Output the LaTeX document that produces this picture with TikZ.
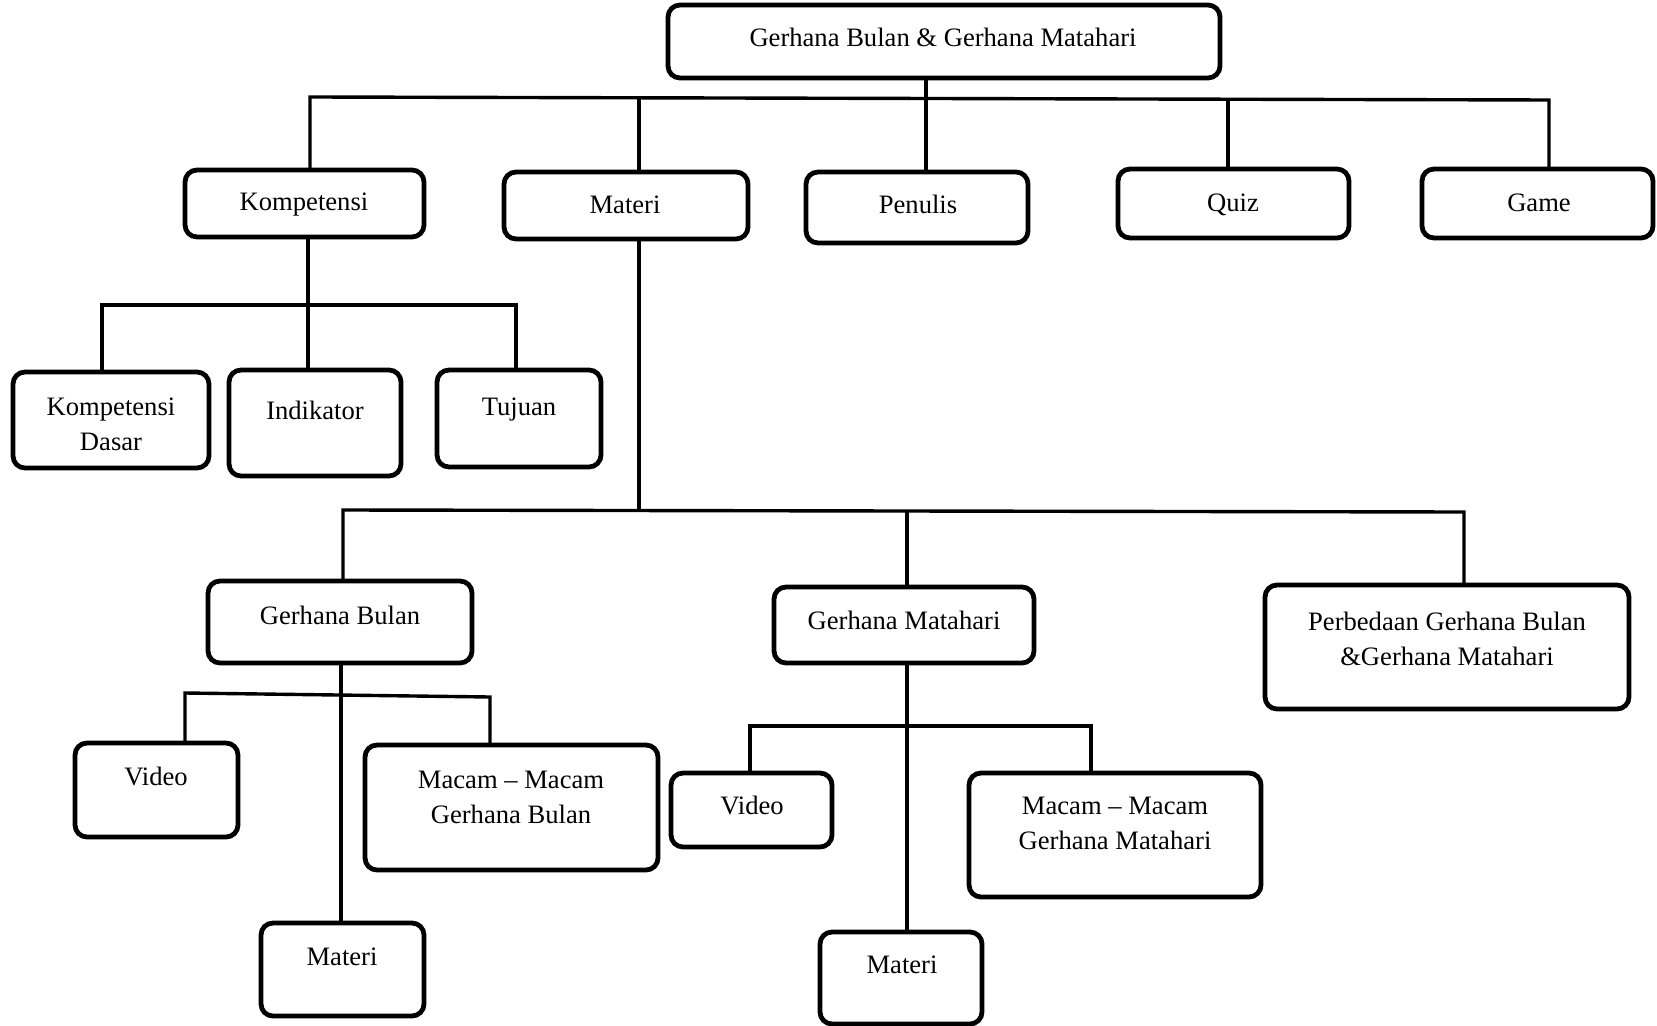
\documentclass[tikz,border=0pt]{standalone}
\usepackage{fontspec}
\setmainfont{Liberation Serif}
\newcommand\mkbox[5]{\node[bx, minimum width={(#4-#2)*0.5pt}, minimum height={(#5-#3)*0.5pt}] (#1) at ({(#2+#4)/2},{(#3+#5)/2}) {};}
\begin{document}
\begin{tikzpicture}[x=0.5pt,y=-0.5pt,
  bx/.style={draw, line width=2.4pt, rounded corners=6pt, inner sep=0pt, outer sep=0pt},
  tx/.style={inner sep=0pt, font=\fontsize{13.3}{17.5}\selectfont, anchor=base},
  txm/.style={inner sep=0pt, font=\fontsize{13.3}{17.5}\selectfont, align=center, anchor=north},
  ln/.style={line width=1.7pt}]
\useasboundingbox (0,0) rectangle (1657,1026);
% boxes
\mkbox{top}{668}{5}{1220}{78}
\mkbox{kom}{185}{170}{424}{237}
\mkbox{mat}{504}{172}{748}{239}
\mkbox{pen}{806}{172}{1028}{243}
\mkbox{quiz}{1118}{169}{1349}{238}
\mkbox{game}{1422}{169}{1653}{238}
\mkbox{kd}{13}{372}{209}{468}
\mkbox{ind}{229}{370}{401}{476}
\mkbox{tuj}{437}{370}{601}{467}
\mkbox{gb}{208}{581}{472}{663}
\mkbox{gm}{774}{587}{1034}{663}
\mkbox{perb}{1265}{585}{1629}{709}
\mkbox{vidb}{75}{743}{238}{837}
\mkbox{macb}{365}{745}{658}{870}
\mkbox{matb}{261}{923}{424}{1016}
\mkbox{vidm}{671}{773}{832}{847}
\mkbox{macm}{969}{773}{1261}{897}
\mkbox{matm}{820}{932}{982}{1024}
% texts
\node[tx] (topt) at (943,47) {Gerhana Bulan \& Gerhana Matahari};
\node[tx] (komt) at (304,211) {Kompetensi};
\node[tx] (matt) at (625,214) {Materi};
\node[tx] (pent) at (918,214) {Penulis};
\node[tx] (quizt) at (1233,212) {Quiz};
\node[tx] (gamet) at (1539,212) {Game};
\node[txm] (kdt) at (111,397) {Kompetensi\\Dasar};
\node[tx] (indt) at (315,419) {Indikator};
\node[tx] (tujt) at (519,415) {Tujuan};
\node[tx] (gbt) at (340,624) {Gerhana Bulan};
\node[tx] (gmt) at (904,629) {Gerhana Matahari};
\node[txm] (perbt) at (1447,612) {Perbedaan Gerhana Bulan\\\&Gerhana Matahari};
\node[tx] (vidbt) at (156,785) {Video};
\node[txm] (macbt) at (511,771) {Macam -- Macam\\Gerhana Bulan};
\node[tx] (matbt) at (342,965) {Materi};
\node[tx] (vidmt) at (752,814) {Video};
\node[txm] (macmt) at (1115,797) {Macam -- Macam\\Gerhana Matahari};
\node[tx] (matmt) at (902,973) {Materi};
% junction points
\coordinate (busT) at (926,98);
\coordinate (tKom) at (310,97);
\coordinate (tMat) at (639,97);
\coordinate (tQuiz) at (1228,99);
\coordinate (tGame) at (1549,100);
\coordinate (kL) at (102,305);
\coordinate (kR) at (516,305);
\coordinate (kM) at (308,305);
\coordinate (mL) at (343,510);
\coordinate (mR) at (1464,512);
\coordinate (mM) at (639,510);
\coordinate (mG) at (907,511);
\coordinate (bL) at (185,693);
\coordinate (bR) at (490,697);
\coordinate (bM) at (341,695);
\coordinate (gL) at (750,726);
\coordinate (gR) at (1091,726);
\coordinate (gM) at (907,726);
% connectors
\draw[ln] (kom.north -| tKom) -- (tKom) -- (tGame) -- (game.north -| tGame);
\draw[ln] (tMat) -- (mat.north -| tMat);
\draw[ln] (tQuiz) -- (quiz.north -| tQuiz);
\draw[ln] (top.south -| busT) -- (pen.north -| busT);
\draw[ln] (kd.north -| kL) -- (kL) -- (kR) -- (tuj.north -| kR);
\draw[ln] (kom.south -| kM) -- (ind.north -| kM);
\draw[ln] (mat.south -| mM) -- (mM);
\draw[ln] (gb.north -| mL) -- (mL) -- (mR) -- (perb.north -| mR);
\draw[ln] (mG) -- (gm.north -| mG);
\draw[ln] (gb.south -| bM) -- (matb.north -| bM);
\draw[ln] (vidb.north -| bL) -- (bL) -- (bR) -- (macb.north -| bR);
\draw[ln] (gm.south -| gM) -- (matm.north -| gM);
\draw[ln] (vidm.north -| gL) -- (gL) -- (gR) -- (macm.north -| gR);
\end{tikzpicture}
\end{document}
